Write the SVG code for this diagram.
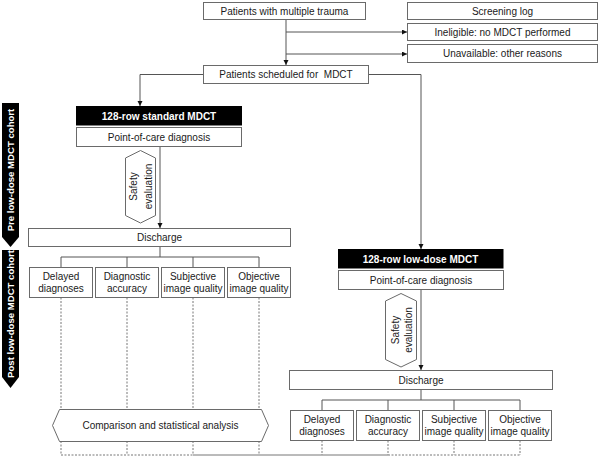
<svg xmlns="http://www.w3.org/2000/svg" width="600" height="457" viewBox="0 0 600 457">
<defs>
<style>
.box{fill:#fff;stroke:#6a6a6a;stroke-width:1}
.blk{fill:#000}
.t{font-family:"Liberation Sans",Arial,sans-serif;font-size:10px;fill:#1a1a1a;text-anchor:middle}
.tw{font-family:"Liberation Sans",Arial,sans-serif;font-size:10px;fill:#fff;font-weight:bold;text-anchor:middle}
.side{font-size:9.6px}
.ln{stroke:#555;stroke-width:1;fill:none}
.ar{marker-end:url(#ah)}
.dash{stroke:#777;stroke-width:1;stroke-dasharray:2,1.5;fill:none}
.sol{stroke:#777;stroke-width:1;fill:none}
</style>
<marker id="ah" markerUnits="userSpaceOnUse" markerWidth="6" markerHeight="6" refX="5" refY="2.5" orient="auto">
<path d="M0,0 L5,2.5 L0,5 Z" fill="#111"/>
</marker>
</defs>
<rect width="600" height="457" fill="#fff"/>

<g id="cohort-bars">
<path d="M2,103 H19 V237 L10.5,247 L2,237 Z" class="blk"/>
<text class="tw side" transform="translate(14,170) rotate(-90)">Pre low-dose MDCT cohort</text>
<path d="M2,250 H19 V377 L10.5,388 L2,377 Z" class="blk"/>
<text class="tw side" transform="translate(14,314) rotate(-90)">Post low-dose MDCT cohort</text>
</g>

<g id="connectors">
<path class="ln ar" d="M286,19.5 V65"/>
<path class="ln ar" d="M286,32 H407"/>
<path class="ln ar" d="M286,54 H407"/>
<path class="ln ar" d="M203,74.5 H140 V106"/>
<path class="ln ar" d="M369,74.5 H421 V249"/>
<path class="ln ar" d="M160,146.5 V228"/>
<path class="ln ar" d="M421,289.5 V370"/>
<path class="ln" d="M160,246.5 V257 M61,257 H259 M61,257 V267.5 M127,257 V267.5 M193,257 V267.5 M259,257 V267.5"/>
<path class="ln" d="M421,389.5 V400 M322,400 H520 M322,400 V410.5 M388,400 V410.5 M454,400 V410.5 M520,400 V410.5"/>
<path class="dash" d="M61,297.5 V455 M127,297.5 V455 M193,297.5 V455 M259,297.5 V455"/>
<path class="dash" d="M322,440.5 V455 M388,440.5 V455 M454,440.5 V455 M520,440.5 V455"/>
<path class="dash" d="M61,455 H193 M388,455 H520"/>
<path class="sol" d="M193,455 H388"/>
</g>

<g id="n-trauma"><rect class="box" x="203.5" y="2.5" width="162" height="17"/><text class="t" x="284.5" y="14.5">Patients with multiple trauma</text></g>
<g id="n-screening"><rect class="box" x="407.5" y="2.5" width="190" height="17"/><text class="t" x="502.5" y="14.5">Screening log</text></g>
<g id="n-ineligible"><rect class="box" x="407.5" y="23.5" width="190" height="17"/><text class="t" x="502.5" y="35.5">Ineligible: no MDCT performed</text></g>
<g id="n-unavailable"><rect class="box" x="407.5" y="44.5" width="190" height="18"/><text class="t" x="502.5" y="57">Unavailable: other reasons</text></g>
<g id="n-scheduled"><rect class="box" x="203.5" y="65.5" width="165" height="18"/><text class="t" x="286" y="78" xml:space="preserve">Patients scheduled for  MDCT</text></g>

<g id="n-std-mdct"><rect class="blk" x="76" y="106" width="166" height="19.5"/><text class="tw" x="159" y="119.5">128-row standard MDCT</text></g>
<g id="n-std-poc"><rect class="box" x="76.5" y="127.5" width="165" height="19"/><text class="t" x="159" y="140.5">Point-of-care diagnosis</text></g>
<g id="n-std-safety"><path class="box" d="M140.5,150.5 L155.5,158 V215.5 L140.5,223 L125.5,215.5 V158 Z"/>
<text class="t" transform="translate(136.5,186.5) rotate(-90)">Safety</text>
<text class="t" transform="translate(151.5,186.5) rotate(-90)">evaluation</text></g>
<g id="n-std-discharge"><rect class="box" x="28.5" y="228.5" width="262" height="18"/><text class="t" x="159.5" y="241">Discharge</text></g>
<g id="n-std-delayed"><rect class="box" x="29.5" y="267.5" width="63" height="30"/><text class="t" x="61" y="279.5">Delayed</text><text class="t" x="61" y="291.5">diagnoses</text></g>
<g id="n-std-accuracy"><rect class="box" x="95.5" y="267.5" width="63" height="30"/><text class="t" x="127" y="279.5">Diagnostic</text><text class="t" x="127" y="291.5">accuracy</text></g>
<g id="n-std-subjective"><rect class="box" x="161.5" y="267.5" width="63" height="30"/><text class="t" x="193" y="279.5">Subjective</text><text class="t" x="193" y="291.5">image quality</text></g>
<g id="n-std-objective"><rect class="box" x="227.5" y="267.5" width="63" height="30"/><text class="t" x="259" y="279.5">Objective</text><text class="t" x="259" y="291.5">image quality</text></g>

<g id="n-comparison"><path class="box" d="M52.5,425.5 L59.5,409.5 H261.5 L268.5,425.5 L261.5,441.5 H59.5 Z"/><text class="t" x="160.5" y="429">Comparison and statistical analysis</text></g>

<g id="n-low-mdct"><rect class="blk" x="338" y="249" width="165.5" height="19.5"/><text class="tw" x="420.5" y="262.5">128-row low-dose MDCT</text></g>
<g id="n-low-poc"><rect class="box" x="338.5" y="270.5" width="165" height="19"/><text class="t" x="421" y="283.5">Point-of-care diagnosis</text></g>
<g id="n-low-safety"><path class="box" d="M401,293.5 L416.5,301 V359.5 L401,367 L385.5,359.5 V301 Z"/>
<text class="t" transform="translate(398.5,330) rotate(-90)">Safety</text>
<text class="t" transform="translate(411.5,330) rotate(-90)">evaluation</text></g>
<g id="n-low-discharge"><rect class="box" x="289.5" y="370.5" width="263" height="19"/><text class="t" x="421" y="383.5">Discharge</text></g>
<g id="n-low-delayed"><rect class="box" x="290.5" y="410.5" width="63" height="30"/><text class="t" x="322" y="422.5">Delayed</text><text class="t" x="322" y="434.5">diagnoses</text></g>
<g id="n-low-accuracy"><rect class="box" x="356.5" y="410.5" width="63" height="30"/><text class="t" x="388" y="422.5">Diagnostic</text><text class="t" x="388" y="434.5">accuracy</text></g>
<g id="n-low-subjective"><rect class="box" x="422.5" y="410.5" width="63" height="30"/><text class="t" x="454" y="422.5">Subjective</text><text class="t" x="454" y="434.5">image quality</text></g>
<g id="n-low-objective"><rect class="box" x="488.5" y="410.5" width="63" height="30"/><text class="t" x="520" y="422.5">Objective</text><text class="t" x="520" y="434.5">image quality</text></g>
</svg>
